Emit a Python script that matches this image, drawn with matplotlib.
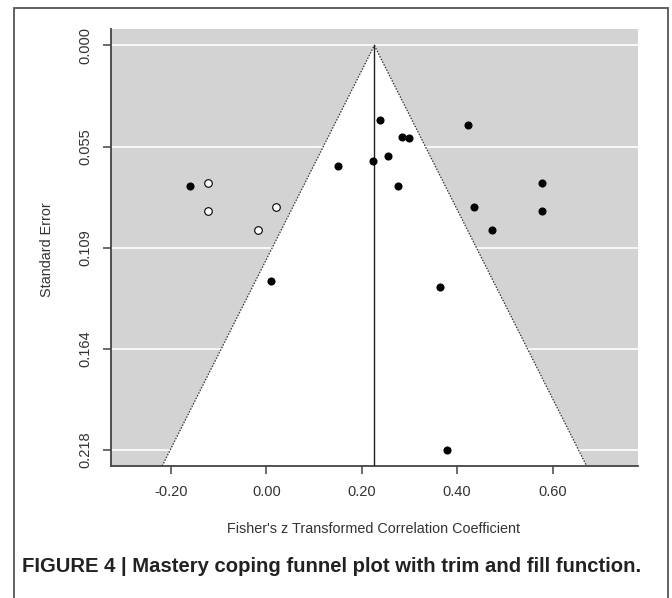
import matplotlib
matplotlib.use("Agg")
import matplotlib.pyplot as plt
import numpy as np
from matplotlib.patches import Rectangle, Polygon

# Observed studies (filled)
obs_z = [0.238, 0.284, 0.300, 0.256, 0.224, 0.151, -0.160, 0.277, 0.009, 0.365,
         0.423, 0.577, 0.435, 0.577, 0.473, 0.378]
obs_se = [0.0404, 0.0493, 0.0499, 0.0594, 0.0625, 0.0650, 0.0756, 0.0756, 0.1273, 0.1306,
          0.0427, 0.0742, 0.0874, 0.0895, 0.0996, 0.2182]
# Imputed studies (trim and fill, open)
fill_z = [-0.122, -0.122, 0.0195, -0.0176]
fill_se = [0.0742, 0.0893, 0.0871, 0.0994]

estimate = 0.2265
se_max = 0.2182
yticks = [0.0, se_max / 4, se_max / 2, 3 * se_max / 4, se_max]
ytick_labels = ["0.000", "0.055", "0.109", "0.164", "0.218"]
xticks = [-0.20, 0.00, 0.20, 0.40, 0.60]
xtick_labels = ["-0.20", "0.00", "0.20", "0.40", "0.60"]

plt.rcParams['font.family'] = ['Liberation Sans', 'DejaVu Sans']

W, H = 672, 598
fig = plt.figure(figsize=(W / 100, H / 100), dpi=100)
fig.patch.set_facecolor('white')

ax = fig.add_axes([110.7 / W, 1 - 466 / H, (638 - 110.7) / W, (466 - 29.3) / H])
ylim_bottom = se_max * 1.04
ylim_top = -se_max * 0.04
ax.set_xlim(-0.326, 0.779)
ax.set_ylim(ylim_bottom, ylim_top)
ax.set_facecolor('#d3d3d3')

for yt in yticks:
    ax.axhline(yt, color='white', lw=1.2, zorder=1)

yb = ylim_bottom
left = estimate - 1.96 * yb
right = estimate + 1.96 * yb
tri = Polygon([[left, yb], [estimate, 0], [right, yb]], closed=True,
              facecolor='white', edgecolor='none', zorder=2)
ax.add_patch(tri)
ax.plot([left, estimate, right], [yb, 0, yb], color='#333333', lw=0.9,
        linestyle=(0, (1.2, 1.2)), zorder=3)
ax.plot([estimate, estimate], [0, yb], color='#222222', lw=1.0, zorder=3)

ax.scatter(obs_z, obs_se, s=34, color='black', zorder=5, linewidths=0)
ax.scatter(fill_z, fill_se, s=30, facecolor='white', edgecolor='black', linewidths=0.8, zorder=5)

for s in ['top', 'right']:
    ax.spines[s].set_visible(False)
for s in ['left', 'bottom']:
    ax.spines[s].set_color('#444444')
    ax.spines[s].set_linewidth(1.3)

ax.set_xticks(xticks)
ax.set_xticklabels(xtick_labels)
ax.set_yticks(yticks)
ax.set_yticklabels(ytick_labels, rotation=90, va='center')
ax.tick_params(axis='both', length=5.5, width=1.1, color='#444444',
               labelsize=10.5, labelcolor='#333333')
ax.tick_params(axis='x', pad=8)
ax.tick_params(axis='y', pad=8)

fig.text(374 / W, 1 - 529 / H, "Fisher's z Transformed Correlation Coefficient",
         ha='center', va='center', fontsize=10.4, color='#333333')
fig.text(47 / W, 1 - 250 / H, "Standard Error", rotation=90,
         ha='center', va='center', fontsize=10.4, color='#333333')

fig.text(22 / W, 1 - 567 / H, "FIGURE 4 | Mastery coping funnel plot with trim and fill function.",
         ha='left', va='center', fontsize=14.6, fontweight='bold', color='#222222')

border = Rectangle((14 / W, -0.02), (668 - 14) / W, (1 - 8 / H) + 0.02,
                   transform=fig.transFigure, fill=False, edgecolor='#555555', lw=1.3)
fig.add_artist(border)

fig.savefig('out.png', dpi=100)
